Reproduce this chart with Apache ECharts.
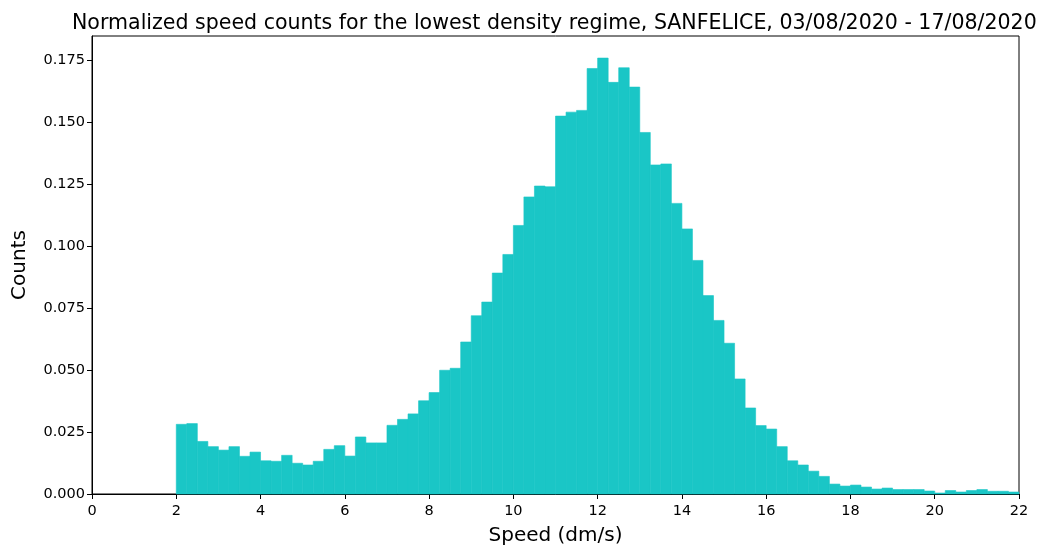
<!DOCTYPE html>
<html>
<head>
<meta charset="utf-8">
<script src="https://cdn.jsdelivr.net/npm/echarts@6/dist/echarts.min.js"></script>
<style>html,body{margin:0;padding:0;background:#fff}#c{width:1041px;height:546px}</style>
</head>
<body>
<div id="c"></div>
<script>
const binStart = 2;
const binWidth = 0.25;
const counts = [
  0.0281, 0.0284, 0.0212, 0.0191, 0.0177, 0.0191, 0.0152, 0.0169, 0.0134, 0.0132,
  0.0156, 0.0124, 0.0117, 0.0132, 0.0180, 0.0195, 0.0153, 0.0230, 0.0206, 0.0206,
  0.0277, 0.0301, 0.0323, 0.0376, 0.0409, 0.0499, 0.0507, 0.0613, 0.0719, 0.0774,
  0.0891, 0.0966, 0.1083, 0.1198, 0.1242, 0.1239, 0.1524, 0.1540, 0.1547, 0.1716,
  0.1758, 0.1660, 0.1719, 0.1641, 0.1458, 0.1327, 0.1331, 0.1172, 0.1069, 0.0942,
  0.0800, 0.0700, 0.0608, 0.0464, 0.0347, 0.0276, 0.0262, 0.0191, 0.0134, 0.0117,
  0.0092, 0.0071, 0.0040, 0.0032, 0.0036, 0.0028, 0.0020, 0.0024, 0.0018, 0.0018,
  0.0018, 0.0012, 0.0004, 0.0014, 0.0008, 0.0014, 0.0018, 0.0011, 0.0011, 0.0008
];
const xTicks = [0, 2, 4, 6, 8, 10, 12, 14, 16, 18, 20, 22];
const yTicks = [0, 0.025, 0.05, 0.075, 0.1, 0.125, 0.15, 0.175];

const bins = counts.map((v, i) => [binStart + i * binWidth, binStart + (i + 1) * binWidth, v]);
const font = 'DejaVu Sans';
const barColor = '#1ac6c6';
const chart = echarts.init(document.getElementById('c'), null, {renderer: 'canvas'});
chart.setOption({
  animation: false,
  title: {
    text: 'Normalized speed counts for the lowest density regime, SANFELICE, 03/08/2020 - 17/08/2020',
    left: 67, top: 8,
    textStyle: {fontFamily: font, fontSize: 20.55, fontWeight: 'normal', color: '#000'}
  },
  grid: {left: 92, right: 22, top: 36, bottom: 52, outerBoundsMode: 'none', containLabel: false,
    show: true, borderColor: '#000', borderWidth: 1, backgroundColor: 'transparent'},
  xAxis: {
    type: 'value', min: 0, max: 22, interval: 2,
    name: 'Speed (dm/s)', nameLocation: 'middle', nameGap: 32,
    nameTextStyle: {fontFamily: font, fontSize: 20, color: '#000'},
    axisLine: {show: true, lineStyle: {color: '#000', width: 1}},
    axisTick: {show: true, length: 5, lineStyle: {color: '#000'}},
    axisLabel: {fontFamily: font, fontSize: 14.5, color: '#000', margin: 10,
      formatter: v => xTicks.includes(v) ? String(v) : ''},
    splitLine: {show: false}
  },
  yAxis: {
    type: 'value', min: 0, max: 0.1847, interval: 0.025,
    name: 'Counts', nameLocation: 'middle', nameGap: 62,
    nameTextStyle: {fontFamily: font, fontSize: 20, color: '#000'},
    axisLine: {show: true, lineStyle: {color: '#000', width: 1}},
    axisTick: {show: true, length: 5, lineStyle: {color: '#000'}},
    axisLabel: {fontFamily: font, fontSize: 14.5, color: '#000', margin: 7,
      showMaxLabel: false,
      formatter: v => yTicks.some(t => Math.abs(t - v) < 1e-9) ? v.toFixed(3) : ''},
    splitLine: {show: false}
  },
  series: [{
    type: 'custom',
    data: bins,
    encode: {x: [0, 1], y: 2},
    renderItem: function (params, api) {
      const p0 = api.coord([api.value(0), api.value(2)]);
      const p1 = api.coord([api.value(1), 0]);
      return {
        type: 'rect',
        shape: {x: p0[0], y: p0[1], width: p1[0] - p0[0], height: p1[1] - p0[1]},
        style: {fill: barColor, stroke: barColor, lineWidth: 0.6}
      };
    }
  }]
});
</script>
</body>
</html>
